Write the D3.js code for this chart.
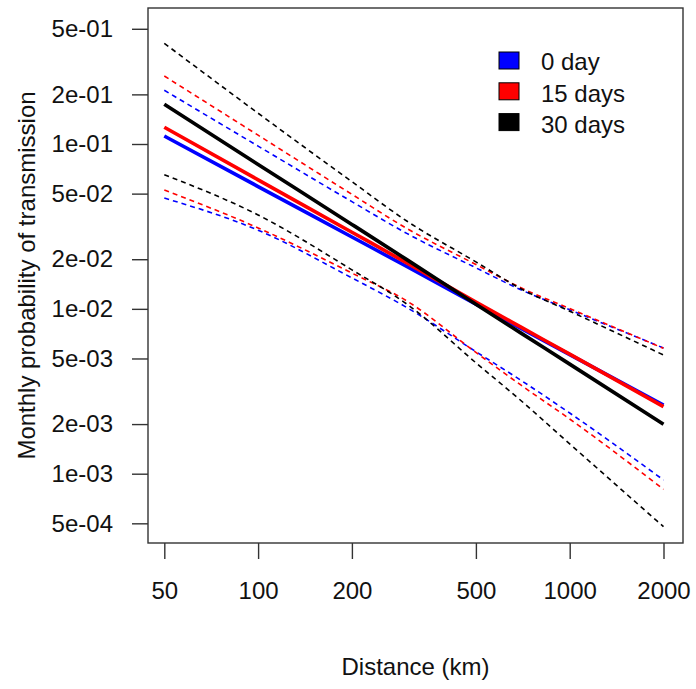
<!DOCTYPE html>
<html>
<head>
<meta charset="utf-8">
<script src="https://cdn.jsdelivr.net/npm/d3@7"></script>
<style>
  html, body { margin: 0; padding: 0; background: #fff; }
  text { font-family: "Liberation Sans", Arial, sans-serif; fill: #111; }
</style>
</head>
<body>
<div id="chart"></div>
<script>
// distance in km, monthly probability of transmission (mean + dashed bounds)
const distances = [50, 100, 200, 300, 500, 700, 1000, 2000];

const mean0  = [0.1118, 0.0552, 0.02729, 0.01807, 0.01069, 0.00759, 0.00528, 0.00261];
const lower0 = [0.0470, 0.0300, 0.01541, 0.01019, 0.00550, 0.00367, 0.002334, 0.000916];
const upper0 = [0.2118, 0.0971, 0.0447, 0.02869, 0.01774, 0.01301, 0.00987, 0.00579];

const mean15  = [0.1263, 0.0606, 0.02917, 0.01900, 0.01100, 0.00772, 0.00531, 0.00255];
const lower15 = [0.0526, 0.03098, 0.01648, 0.01117, 0.00544, 0.00343, 0.002147, 0.000804];
const upper15 = [0.2585, 0.1131, 0.0495, 0.03076, 0.01858, 0.01338, 0.01005, 0.00576];

const mean30  = [0.1741, 0.0752, 0.03253, 0.01989, 0.01066, 0.00710, 0.00462, 0.001994];
const lower30 = [0.0651, 0.0371, 0.01725, 0.01070, 0.00471, 0.00276, 0.001517, 0.000477];
const upper30 = [0.408, 0.1537, 0.0591, 0.0341, 0.01927, 0.01319, 0.00968, 0.00525];

const seriesNames  = ['0 day', '15 days', '30 days'];
const seriesColors = ['#0000ff', '#ff0000', '#000000'];

const xTicks = [50, 100, 200, 500, 1000, 2000];
const xTickLabels = ['50', '100', '200', '500', '1000', '2000'];
const yTicks = [5e-1, 2e-1, 1e-1, 5e-2, 2e-2, 1e-2, 5e-3, 2e-3, 1e-3, 5e-4];
const yTickLabels = ['5e-01', '2e-01', '1e-01', '5e-02', '2e-02', '1e-02', '5e-03', '2e-03', '1e-03', '5e-04'];

function drawChart() {
  const width = 696;
  const height = 689;
  const box = { left: 148, top: 8, right: 683, bottom: 543 };

  const svg = d3.select('#chart')
    .append('svg')
    .attr('width', width)
    .attr('height', height);

  const x = d3.scaleLog().domain([50, 2000]).range([164.3, 663.5]);
  const y = d3.scaleLog().domain([1e-3, 1e-1]).range([473.7, 144]);

  const line = d3.line()
    .x(d => x(d.d))
    .y(d => y(d.p))
    .curve(d3.curveMonotoneX);

  const toPoints = arr => distances.map((d, i) => ({ d: d, p: arr[i] }));

  const groups = [
    { mean: mean0, lower: lower0, upper: upper0 },
    { mean: mean15, lower: lower15, upper: upper15 },
    { mean: mean30, lower: lower30, upper: upper30 }
  ];

  // dashed bounds first, then solid means (blue, red, black)
  groups.forEach((g, i) => {
    [g.upper, g.lower].forEach(arr => {
      svg.append('path')
        .datum(toPoints(arr))
        .attr('fill', 'none')
        .attr('stroke', seriesColors[i])
        .attr('stroke-width', 1.6)
        .attr('stroke-dasharray', '5,4')
        .attr('d', line);
    });
  });
  groups.forEach((g, i) => {
    svg.append('path')
      .datum(toPoints(g.mean))
      .attr('fill', 'none')
      .attr('stroke', seriesColors[i])
      .attr('stroke-width', 3.6)
      .attr('d', line);
  });

  // plot frame
  svg.append('rect')
    .attr('x', box.left)
    .attr('y', box.top)
    .attr('width', box.right - box.left)
    .attr('height', box.bottom - box.top)
    .attr('fill', 'none')
    .attr('stroke', '#333')
    .attr('stroke-width', 1.4);

  // axes
  const xAxis = d3.axisBottom(x)
    .tickValues(xTicks)
    .tickFormat((d, i) => xTickLabels[i])
    .tickSize(16)
    .tickPadding(23);

  const gx = svg.append('g')
    .attr('transform', `translate(0,${box.bottom})`)
    .call(xAxis);

  const yAxis = d3.axisLeft(y)
    .tickValues(yTicks)
    .tickFormat((d, i) => yTickLabels[i])
    .tickSize(16)
    .tickPadding(19);

  const gy = svg.append('g')
    .attr('transform', `translate(${box.left},0)`)
    .call(yAxis);

  [gx, gy].forEach(g => {
    g.select('.domain').remove();
    g.selectAll('.tick line').attr('stroke', '#333').attr('stroke-width', 1.4);
    g.selectAll('.tick text')
      .attr('font-size', 24)
      .attr('font-family', '"Liberation Sans", Arial, sans-serif')
      .attr('fill', '#111');
  });

  // axis titles
  svg.append('text')
    .attr('x', (box.left + box.right) / 2)
    .attr('y', 675)
    .attr('text-anchor', 'middle')
    .attr('font-size', 24)
    .text('Distance (km)');

  svg.append('text')
    .attr('transform', `translate(35,${(box.top + box.bottom) / 2}) rotate(-90)`)
    .attr('text-anchor', 'middle')
    .attr('font-size', 24)
    .text('Monthly probability of transmission');

  // legend
  const legend = svg.append('g').attr('transform', 'translate(499,52)');
  seriesNames.forEach((name, i) => {
    legend.append('rect')
      .attr('x', 0)
      .attr('y', i * 30.8)
      .attr('width', 20)
      .attr('height', 17)
      .attr('fill', seriesColors[i])
      .attr('stroke', '#000')
      .attr('stroke-width', 1);
    legend.append('text')
      .attr('x', 42)
      .attr('y', i * 31.2 + 18.3)
      .attr('font-size', 24)
      .text(name);
  });
}

window.addEventListener('DOMContentLoaded', drawChart);
</script>
</body>
</html>
